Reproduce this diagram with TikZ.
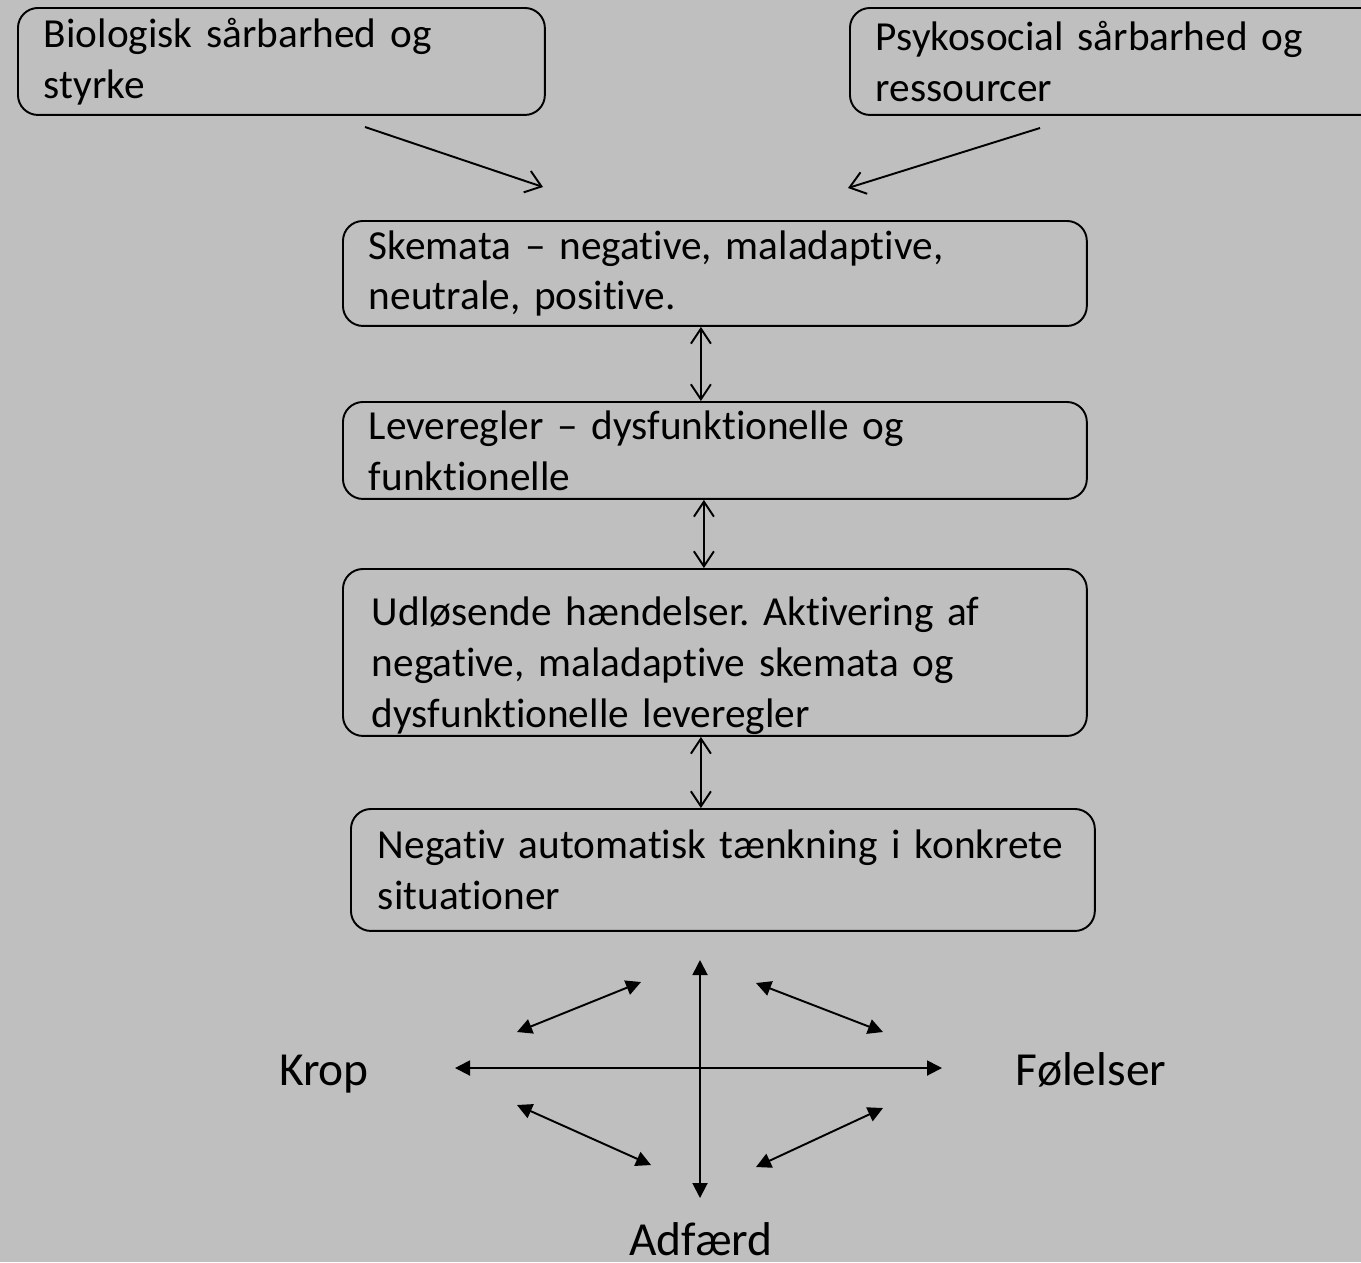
\documentclass[tikz,border=0pt]{standalone}
\usepackage{fontspec}
\setmainfont{Carlito}[Ligatures=NoCommon]
\usetikzlibrary{arrows.meta, positioning}
\definecolor{slidegray}{RGB}{191,191,191}
\newcommand\boxfont{\fontsize{23.5}{28.9}\selectfont\frenchspacing}
\newcommand\cornerfont{\fontsize{27}{32}\selectfont}
\tikzset{
    box/.style={draw, line width=1.1pt, rounded corners=0.4cm, anchor=north west, align=left, inner xsep=0.52cm, font=\boxfont}, % the rounded text boxes
    feed/.style={-{Straight Barb[length=0.3cm,width=0.45cm]}, line width=1.1pt}, % thin arrows from the top boxes
    link/.style={{Straight Barb[length=0.3cm,width=0.4cm]}-{Straight Barb[length=0.3cm,width=0.4cm]}, line width=1.1pt}, % two way arrows between boxes
    cross/.style={{Triangle[length=0.3cm,width=0.3cm]}-{Triangle[length=0.3cm,width=0.3cm]}, line width=1.1pt}, % filled two way arrows
    corner/.style={font=\cornerfont, inner sep=0pt, anchor=base},
}

\begin{document}
\begin{tikzpicture}[x=0.02cm, y=-0.02cm]

    \fill[slidegray] (0,0) rectangle (1361,1262);
    \useasboundingbox (0,0) rectangle (1361,1262);

    \node[box, minimum width=10.54cm, minimum height=2.14cm, text width=9.5cm] (bio) at (17,7) {Biologisk sårbarhed og\\styrke};
    \node[box, minimum width=10.8cm, minimum height=2.14cm, text width=9.76cm] (psy) at (849,7) {Psykosocial sårbarhed og\\ressourcer};
    \node[box, minimum width=14.88cm, minimum height=2.1cm, text width=13.84cm] (skem) at (342,220) {Skemata – negative, maladaptive,\\neutrale, positive.};
    \node[box, minimum width=14.88cm, minimum height=1.94cm, text width=13.84cm] (lev) at (342,401) {Leveregler – dysfunktionelle og\\funktionelle};
    \node[box, inner xsep=0.58cm, inner ysep=0pt, text height=1.14cm, text depth=2.2cm, minimum width=14.88cm, text width=13.72cm] (udl) at (342,568) {Udløsende hændelser. Aktivering af\\negative, maladaptive skemata og\\dysfunktionelle leveregler};
    \node[box, inner xsep=0.54cm, minimum width=14.88cm, minimum height=2.44cm, text width=13.8cm] (neg) at (350,808) {Negativ automatisk tænkning i konkrete\\situationer};

    \node[corner] (krop) at (324,1085) {Krop};
    \node[corner] (fol) at (1091,1085) {Følelser};
    \node[corner] (adf) at (701,1255) {Adfærd};

    % ends of the free arrows
    \coordinate (bio end) at (365,127);
    \coordinate (bio tip) at (543,187);
    \coordinate (psy end) at (1040,128);
    \coordinate (psy tip) at (848,188);
    \draw[feed] (bio end) -- (bio tip);
    \draw[feed] (psy end) -- (psy tip);

    \draw[link] ([xshift=-0.28cm]skem.south) -- ([xshift=-0.28cm]lev.north);
    \draw[link] ([xshift=-0.22cm]lev.south) -- ([xshift=-0.22cm]udl.north);
    \draw[link] ([xshift=-0.28cm]udl.south) -- ([xshift=-0.28cm]udl.south |- neg.north);

    % the cross between krop, følelser and adfærd
    \coordinate (top) at (700,960);
    \coordinate (bottom) at (700,1198);
    \coordinate (left) at (455,1068);
    \coordinate (right) at (942,1068);
    \draw[cross] (top) -- (bottom);
    \draw[cross] (left) -- (right);
    \draw[cross] (517,1032) -- (641,982);
    \draw[cross] (756,983) -- (883,1032);
    \draw[cross] (517,1105) -- (651,1165);
    \draw[cross] (883,1108) -- (756,1167);

\end{tikzpicture}
\end{document}
